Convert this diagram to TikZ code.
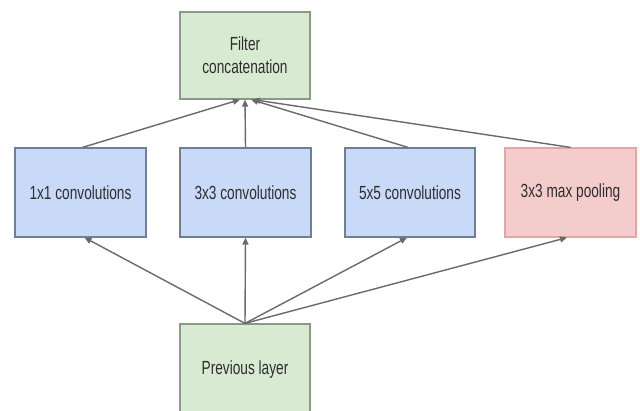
\documentclass[tikz,border=0pt]{standalone}
\usepackage{fontspec}
\setmainfont{Liberation Sans}[FakeStretch=0.72]
\usetikzlibrary{arrows.meta}
\definecolor{gfill}{HTML}{D9EAD3}
\definecolor{gdraw}{HTML}{8A9A86}
\definecolor{bfill}{HTML}{C9DAF8}
\definecolor{bdraw}{HTML}{6F7F98}
\definecolor{rfill}{HTML}{F4CCCC}
\definecolor{rdraw}{HTML}{E3A6A6}
\definecolor{arr}{HTML}{6A6A6A}
\begin{document}
\begin{tikzpicture}[x=1pt,y=-1pt,
  box/.style={rectangle, line width=1.2pt, inner sep=0pt, align=center,
    font=\fontsize{19}{23}\selectfont, text=black!82},
  gbox/.style={box, fill=gfill, draw=gdraw},
  bbox/.style={box, fill=bfill, draw=bdraw},
  rbox/.style={box, fill=rfill, draw=rdraw},
  conn/.style={draw=arr, line width=1.4pt, -{Triangle[length=7pt,width=6pt]}}]
\clip (0,0) rectangle (640,411);
\fill[white] (0,0) rectangle (640,411);
\node[gbox, minimum width=130pt, minimum height=87pt] (fc) at (245,55.5) {Filter\\concatenation};
\node[bbox, minimum width=131pt, minimum height=89pt] (c1) at (80.5,192.5) {1x1 convolutions};
\node[bbox, minimum width=131pt, minimum height=89pt] (c3) at (245.5,192.5) {3x3 convolutions};
\node[bbox, minimum width=130pt, minimum height=89pt] (c5) at (410,192.5) {5x5 convolutions};
\node[rbox, minimum width=131pt, minimum height=89pt] (mp) at (570.5,192.5) {3x3 max pooling};
\node[gbox, minimum width=130pt, minimum height=92pt] (pl) at (245,370) {Previous layer};
\draw[conn] (pl.north) -- ([xshift=4pt]c1.south);
\draw[conn] (pl.north) -- (c3.south);
\draw[conn] (pl.north) -- ([xshift=-3pt]c5.south);
\draw[conn] (pl.north) -- ([xshift=-3.5pt]mp.south);
\draw[conn] ([xshift=2pt]c1.north) -- ([xshift=-5pt]fc.south);
\draw[conn] (c3.north) -- (fc.south);
\draw[conn] ([xshift=-2pt]c5.north) -- ([xshift=6pt]fc.south);
\draw[conn] (mp.north) -- ([xshift=8pt]fc.south);
\end{tikzpicture}
\end{document}
